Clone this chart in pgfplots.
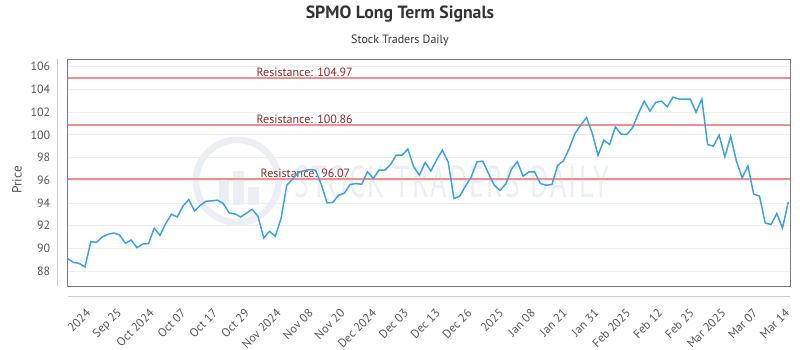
\documentclass[border=0pt]{standalone}
\usepackage{pgfplots}
\pgfplotsset{compat=1.18}
\usepackage{fontspec}
\setmainfont{PT Sans}
\definecolor{linec}{HTML}{3BA0E6}
\definecolor{resl}{HTML}{EE9090}
\definecolor{rest}{HTML}{8B2B2B}
\definecolor{framec}{HTML}{777777}
\definecolor{gridc}{HTML}{EFEFEF}
\definecolor{axc}{HTML}{CCCCCC}
\definecolor{tickc}{HTML}{555555}
\definecolor{titlec}{HTML}{333333}
\definecolor{wmc}{HTML}{EBEFF3}
\begin{document}
\begin{tikzpicture}
\useasboundingbox (0,0) rectangle (600pt,262.5pt);
\node[font=\fontsize{13.3}{15}\selectfont\bfseries, text=titlec] at (300pt,252pt) {SPMO Long Term Signals};
\node[font=\fontsize{9}{11}\selectfont, text=titlec] at (300pt,232.5pt) {Stock Traders Daily};
\node[font=\fontsize{10}{12}\selectfont, text=tickc, rotate=90] at (12.75pt,127.5pt) {Price};
\begin{axis}[
  at={(50.8pt,48pt)}, anchor=south west,
  scale only axis, width=541.7pt, height=170pt,
  xmin=0, xmax=125.3, ymin=86.68, ymax=106.65,
  axis line style={draw=framec, line width=0.75pt},
  ytick={88,90,...,106},
  ymajorgrids, grid style={draw=gridc, line width=0.6pt},
  major tick length=0pt,
  tick label style={text=tickc},
  /pgf/number format/assume math mode=true,
  yticklabel style={font=\fontsize{9}{10}\selectfont, anchor=east, inner sep=0pt, xshift=-13pt},
  xtick={3.76,9.27,14.78,20.29,25.80,31.32,36.83,42.34,47.85,53.36,58.87,64.38,69.89,75.40,80.91,86.42,91.94,97.45,102.96,108.47,113.98,119.49,125.0},
  xticklabels={2024,Sep 25,Oct 2024,Oct 07,Oct 17,Oct 29,Nov 2024,Nov 08,Nov 20,Dec 2024,Dec 03,Dec 13,Dec 26,2025,Jan 08,Jan 21,Jan 31,Feb 2025,Feb 12,Feb 25,Mar 2025,Mar 07,Mar 14},
  xticklabel style={font=\fontsize{9}{10}\selectfont, rotate=45, anchor=east, inner sep=0pt, xshift=-13.8pt, yshift=-12.8pt},
  clip=false,
]
% watermark
\draw[wmc, line width=5pt] (axis cs:29.4,95.91) circle[radius=31pt];
\fill[wmc] ([xshift=-14pt,yshift=-18pt]axis cs:29.4,95.91) rectangle ([xshift=-6pt,yshift=0pt]axis cs:29.4,95.91);
\fill[wmc] ([xshift=-3pt,yshift=-18pt]axis cs:29.4,95.91) rectangle ([xshift=5pt,yshift=8pt]axis cs:29.4,95.91);
\fill[wmc] ([xshift=8pt,yshift=-18pt]axis cs:29.4,95.91) rectangle ([xshift=16pt,yshift=-4pt]axis cs:29.4,95.91);
\node[text=wmc, font=\fontsize{21}{23}\selectfont\addfontfeature{LetterSpace=8}] at (axis cs:66.6,95.9) {\scalebox{1}[1.6]{STOCK TRADERS DAILY}};
% axis lines offset
\draw[axc, line width=0.75pt] ([xshift=-7.5pt]rel axis cs:0,0) -- ([xshift=-7.5pt]rel axis cs:0,1);
\draw[axc, line width=0.75pt] ([yshift=-7.5pt]rel axis cs:0,0) -- ([yshift=-7.5pt]rel axis cs:1,0);
% resistance
\addplot[resl, line width=1.5pt, forget plot] coordinates {(0,104.97) (125.3,104.97)};
\addplot[resl, line width=1.5pt, forget plot] coordinates {(0,100.86) (125.3,100.86)};
\addplot[resl, line width=1.5pt, forget plot] coordinates {(0,96.07) (125.3,96.07)};
\node[anchor=south west, inner sep=1pt, text=rest, font=\fontsize{9}{10}\selectfont] at (axis cs:32.5,104.97) {Resistance: 104.97};
\node[anchor=south west, inner sep=1pt, text=rest, font=\fontsize{9}{10}\selectfont] at (axis cs:32.5,100.86) {Resistance: 100.86};
\node[anchor=south west, inner sep=1pt, text=rest, font=\fontsize{9}{10}\selectfont] at (axis cs:33.2,96.07) {Resistance: 96.07};
\addplot[linec, line width=1.1pt] table {
x y
0 89.09
1 88.76
2 88.67
3 88.35
4 90.59
5 90.53
6 91.00
7 91.24
8 91.35
9 91.17
10 90.44
11 90.73
12 90.06
13 90.38
14 90.41
15 91.77
16 91.15
17 92.18
18 93.00
19 92.76
20 93.73
21 94.30
22 93.29
23 93.79
24 94.15
25 94.18
26 94.24
27 93.94
28 93.12
29 93.03
30 92.76
31 93.09
32 93.44
33 92.82
34 90.91
35 91.50
36 91.06
37 92.62
38 95.56
39 96.10
40 96.68
41 96.85
42 96.94
43 96.88
44 95.60
45 94.00
46 94.05
47 94.68
48 94.86
49 95.63
50 95.70
51 95.65
52 96.75
53 96.17
54 96.88
55 96.88
56 97.38
57 98.22
58 98.20
59 98.75
60 97.20
61 96.44
62 97.56
63 96.82
64 97.80
65 98.65
66 97.60
67 94.38
68 94.60
69 95.47
70 96.30
71 97.62
72 97.68
73 96.59
74 95.56
75 95.10
76 95.68
77 97.00
78 97.62
79 96.35
80 96.73
81 96.73
82 95.71
83 95.56
84 95.62
85 97.32
86 97.70
87 98.80
88 100.12
89 100.85
90 101.53
91 100.12
92 98.20
93 99.53
94 99.15
95 100.70
96 100.06
97 100.03
98 100.65
99 101.88
100 102.97
101 102.09
102 102.86
103 102.97
104 102.47
105 103.32
106 103.15
107 103.15
108 103.15
109 101.98
110 103.15
111 99.15
112 99.00
113 99.97
114 98.06
115 99.88
116 97.68
117 96.20
118 97.26
119 94.76
120 94.61
121 92.24
122 92.09
123 93.06
124 91.79
125 94.09
};
\end{axis}
\end{tikzpicture}
\end{document}
